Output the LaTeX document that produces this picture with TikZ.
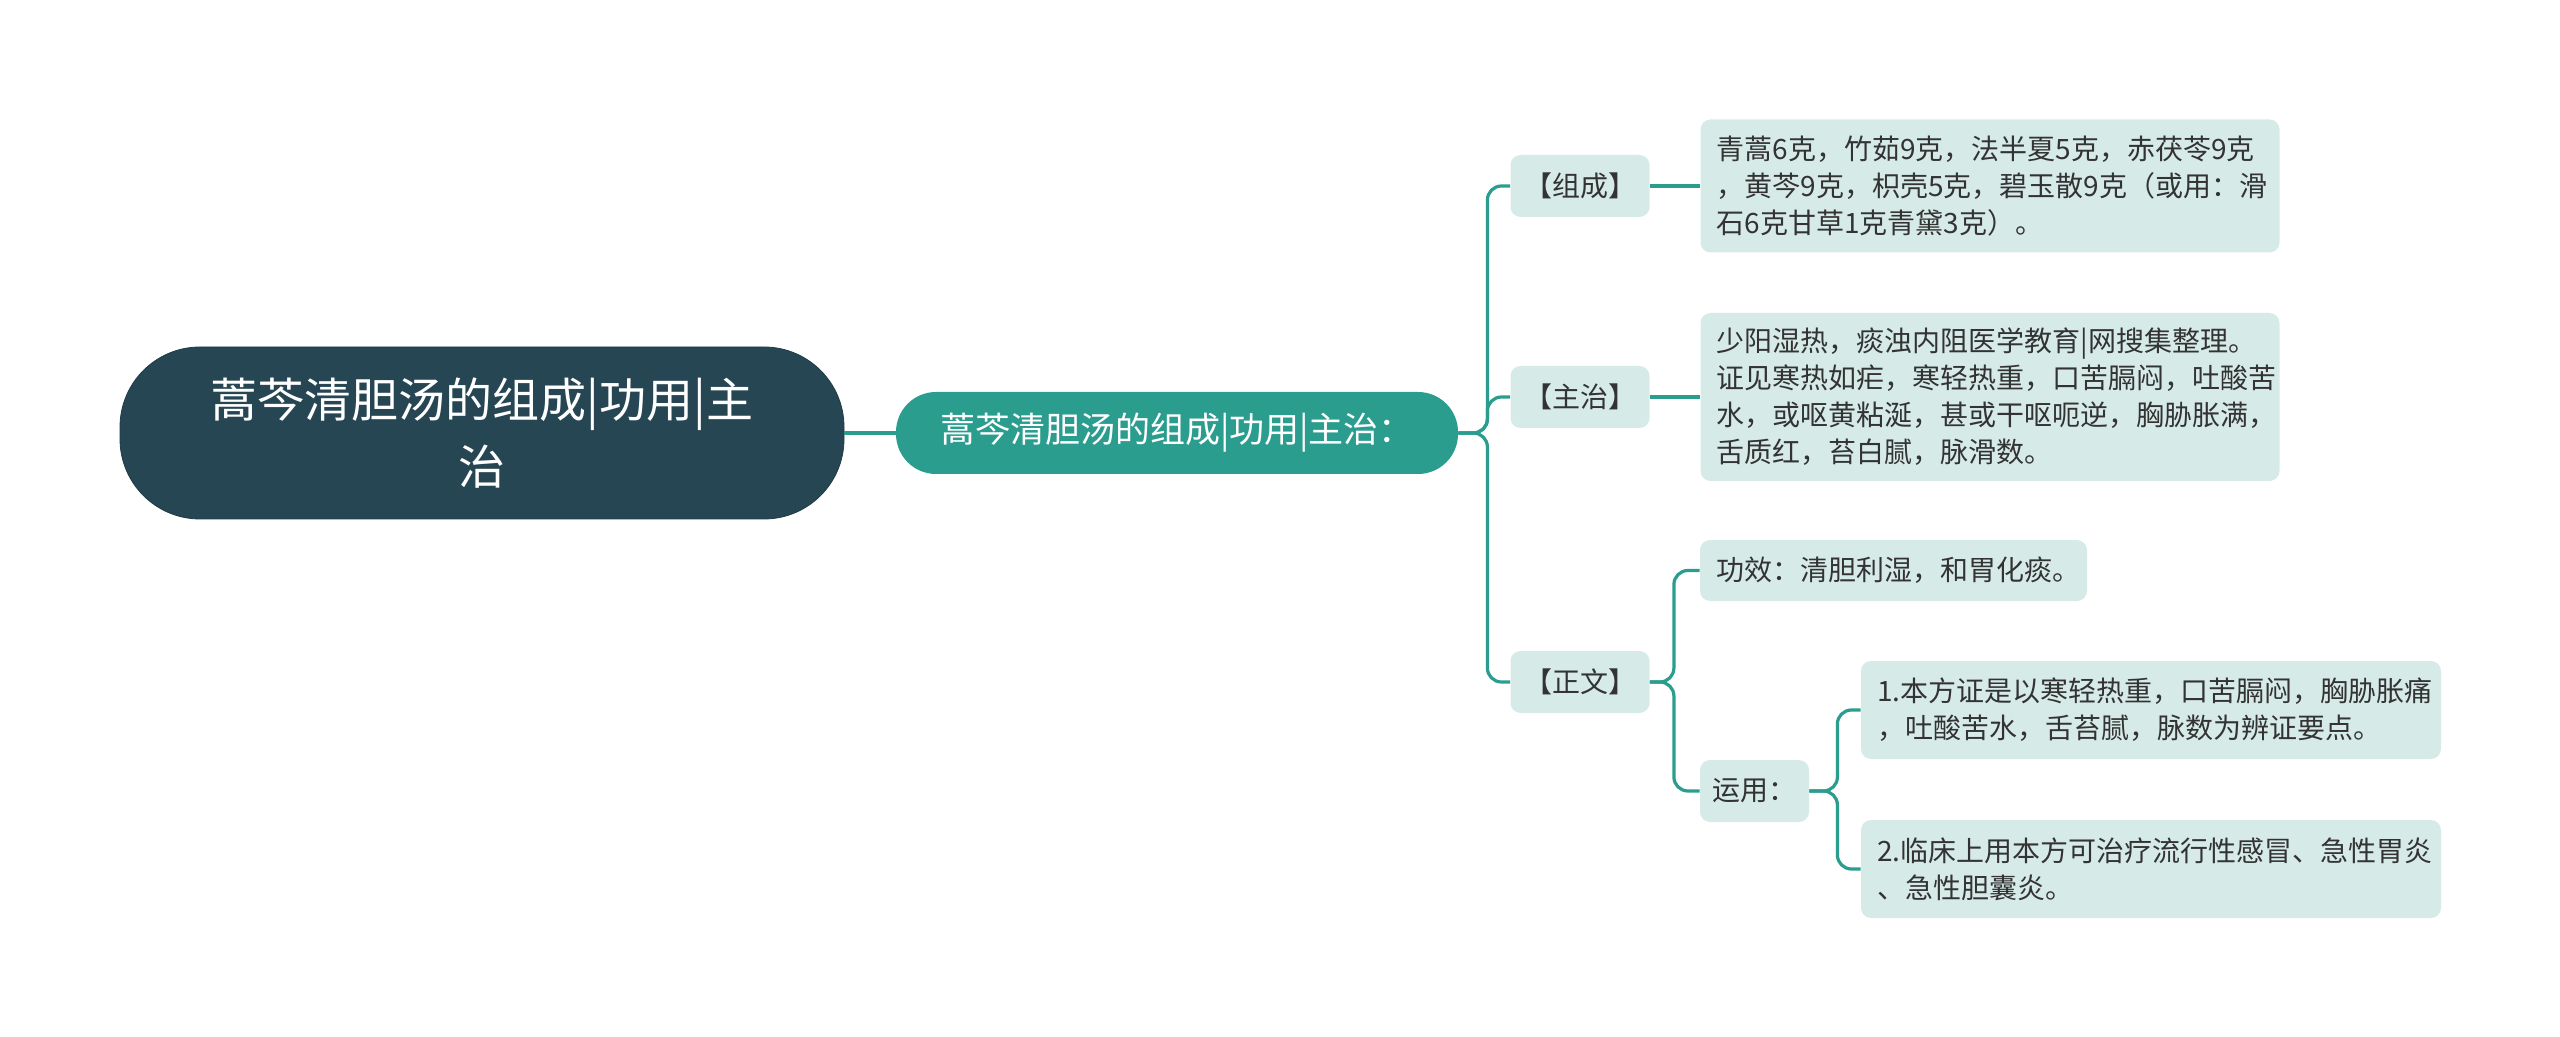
\documentclass[tikz,border=0pt]{standalone}
\usepackage{fontspec}
\setmainfont{Noto Sans CJK SC}
\usepackage{tikz}
\usetikzlibrary{positioning}
\definecolor{rootdark}{RGB}{38, 70, 83}
\definecolor{branchteal}{RGB}{42, 157, 143}
\definecolor{leafmint}{RGB}{214, 235, 232}
\definecolor{inkgray}{RGB}{51, 51, 51}

\begin{document}
\begin{tikzpicture}[
    x=0.5pt, y=-0.5pt,
    root/.style={rectangle, rounded corners=40pt, fill=rootdark, draw=rootdark!85!black, text=white, minimum width=362pt, minimum height=86pt, align=center, font=\fontsize{23.5}{33.5}\selectfont},
    topic/.style={rectangle, rounded corners=20pt, fill=branchteal, text=white, minimum width=281pt, minimum height=41pt, font=\fontsize{17.5}{20}\selectfont},
    tag/.style={rectangle, rounded corners=5pt, fill=leafmint, text=inkgray, minimum width=69.5pt, minimum height=31pt, inner xsep=6pt, font=\fontsize{14}{18.5}\selectfont},
    leaf/.style={rectangle, rounded corners=5pt, fill=leafmint, text=inkgray, align=left, inner xsep=8pt, font=\fontsize{14}{18.5}\selectfont},
    link/.style={draw=branchteal, line width=1.6pt, rounded corners=7pt}
]
    \useasboundingbox (0,0) rectangle (2560,1037);

    % Root and main topic
    \node[root] (root) at (482, 433) {蒿芩清胆汤的组成|功用|主\\治};
    \node[topic] (topic) at (1177, 433) {蒿芩清胆汤的组成|功用|主治：};

    % Second level
    \node[tag] (zucheng) at (1580, 186) {【组成】};
    \node[tag] (zhuzhi) at (1580, 397) {【主治】};
    \node[tag] (zhengwen) at (1580, 682) {【正文】};

    % Third level
    \node[leaf, text width=273.5pt, minimum height=66.5pt] (zuchengtxt) at (1990, 186) {青蒿6克，竹茹9克，法半夏5克，赤茯苓9克\\，黄芩9克，枳壳5克，碧玉散9克（或用：滑\\石6克甘草1克青黛3克）。};
    \node[leaf, text width=273.5pt, minimum height=84pt] (zhuzhitxt) at (1990, 397) {少阳湿热，痰浊内阻医学教育|网搜集整理。\\证见寒热如疟，寒轻热重，口苦膈闷，吐酸苦\\水，或呕黄粘涎，甚或干呕呃逆，胸胁胀满，\\舌质红，苔白腻，脉滑数。};
    \node[leaf, text width=177.5pt, minimum height=30.5pt] (gongxiao) at (1893.5, 570.5) {功效：清胆利湿，和胃化痰。};
    \node[tag, minimum width=54.5pt] (yunyong) at (1754.5, 791) {运用：};

    % Fourth level
    \node[leaf, text width=274pt, minimum height=49pt] (yong1) at (2151, 710) {1.本方证是以寒轻热重，口苦膈闷，胸胁胀痛\\，吐酸苦水，舌苔腻，脉数为辨证要点。};
    \node[leaf, text width=274pt, minimum height=49pt] (yong2) at (2151, 869) {2.临床上用本方可治疗流行性感冒、急性胃炎\\、急性胆囊炎。};

    % Connectors
    \draw[link] (root) -- (topic);
    \draw[link] (topic.east) -- ++(29,0) |- (zucheng.west);
    \draw[link] (topic.east) -- ++(29,0) |- (zhuzhi.west);
    \draw[link] (topic.east) -- ++(29,0) |- (zhengwen.west);
    \draw[link] (zucheng) -- (zuchengtxt);
    \draw[link] (zhuzhi) -- (zhuzhitxt);
    \draw[link] (zhengwen.east) -- ++(24,0) |- (gongxiao.west);
    \draw[link] (zhengwen.east) -- ++(24,0) |- (yunyong.west);
    \draw[link] (yunyong.east) -- ++(28,0) |- (yong1.west);
    \draw[link] (yunyong.east) -- ++(28,0) |- (yong2.west);
\end{tikzpicture}
\end{document}
